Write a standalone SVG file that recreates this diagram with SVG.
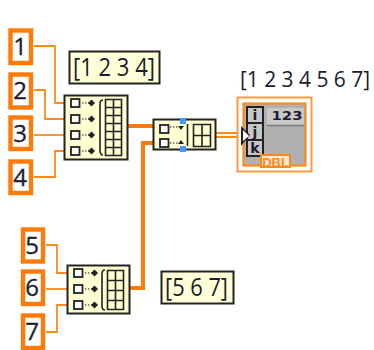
<svg xmlns="http://www.w3.org/2000/svg" width="374" height="350" viewBox="0 0 374 350">
<style>
text{font-family:"Open Sans","DejaVu Sans",sans-serif;fill:#1c1c30}
.c{fill:#fff;stroke:#ff7a08;stroke-width:4.4}
.n{font-size:24px;text-anchor:middle;stroke:#1c1c30;stroke-width:.3}
.w{fill:none;stroke:#ff8a1c;stroke-width:1.8}
.t{fill:none;stroke:#ff7a08;stroke-width:4}
.b{fill:#ffffd2;stroke:#222;stroke-width:2}
.l{fill:#ffffd8;stroke:#222;stroke-width:2}
.lt{font-size:25px}
.s{fill:#fff;stroke:#222;stroke-width:1.8}
.d{fill:none;stroke:#222;stroke-width:1.2;stroke-dasharray:1.5 1.5}
.g{fill:none;stroke:#222;stroke-width:1.6}
.h{fill:#3d9bff}
.k{fill:#222}
.f{font-weight:700;text-anchor:middle;font-family:"DejaVu Sans",sans-serif}
.cell{fill:#c6c6c6;stroke:#222;stroke-width:2}
</style>
<defs>
<g id="row"><rect class="s" x="0" y="-4" width="8.500" height="8"/><path class="d" d="M11 0H20"/><path class="k" d="M20.500 -3.500L24 0L20.500 3.500L17 0Z"/></g>
</defs>
<g id="connectors">
<path class="w" d="M34 46H55V103H64"/>
<path class="w" d="M34 90H45V119H64"/>
<path class="w" d="M34 135H64"/>
<path class="w" d="M34 177H55V151H64"/>
<path class="w" d="M46 245H57V273H67"/>
<path class="w" d="M46 289H67"/>
<path class="w" d="M46 332H57V305H67"/>
<path class="t" d="M128 126H153"/>
<path class="t" d="M130 288H143V143H153"/>
<path class="w" d="M216 133H241M216 137H241"/>
</g>
<g id="c1"><rect class="c" x="10.500" y="30.500" width="20.500" height="32.500"/><text class="n" x="20" y="55">1</text></g>
<g id="c2"><rect class="c" x="10.500" y="74.500" width="20.500" height="33"/><text class="n" x="20" y="99">2</text></g>
<g id="c3"><rect class="c" x="10.500" y="117.500" width="20.500" height="31.500"/><text class="n" x="20" y="142">3</text></g>
<g id="c4"><rect class="c" x="10.500" y="161.500" width="20.500" height="31.500"/><text class="n" x="20" y="186">4</text></g>
<g id="c5"><rect class="c" x="23" y="229.500" width="20" height="32"/><text class="n" x="32" y="254">5</text></g>
<g id="c6"><rect class="c" x="23" y="271.500" width="20" height="32.500"/><text class="n" x="32" y="296">6</text></g>
<g id="c7"><rect class="c" x="23" y="315.500" width="20" height="32.500"/><text class="n" x="32" y="340">7</text></g>
<g id="label1"><rect class="l" x="69.500" y="51.500" width="90" height="32"/><text class="lt" x="73" y="76" textLength="82" lengthAdjust="spacingAndGlyphs">[1 2 3 4]</text></g>
<g id="label2"><rect class="l" x="161.500" y="271.500" width="72" height="32"/><text class="lt" x="165" y="296" textLength="63" lengthAdjust="spacingAndGlyphs">[5 6 7]</text></g>
<text id="label3" x="240" y="87" textLength="130" lengthAdjust="spacingAndGlyphs" style="font-size:21px">[1 2 3 4 5 6 7]</text>
<g id="build1">
<rect class="b" x="64.500" y="95.500" width="63" height="64"/>
<use href="#row" x="71" y="103"/><use href="#row" x="71" y="119"/><use href="#row" x="71" y="135"/><use href="#row" x="71" y="151"/>
<path class="g" d="M103 100Q100 100 100 104V150Q100 155 103 155"/>
<path class="g" d="M105.500 99.500H121.500V155.500H105.500ZM105.500 107.500H121.500M105.500 115.500H121.500M105.500 123.500H121.500M105.500 131.500H121.500M105.500 139.500H121.500M105.500 147.500H121.500M113.500 99.500V155.500"/>
</g>
<g id="build2">
<rect class="b" x="67.500" y="265.500" width="62" height="48"/>
<use href="#row" x="74" y="273"/><use href="#row" x="74" y="289"/><use href="#row" x="74" y="305"/>
<path class="g" d="M105 270Q102 270 102 274V306Q102 310 105 310"/>
<path class="g" d="M107.500 270.500H123.500V309.500H107.500ZM107.500 280.500H123.500M107.500 290.500H123.500M107.500 300.500H123.500M115.500 270.500V309.500"/>
</g>
<g id="build3">
<rect class="b" x="153.500" y="119.500" width="62" height="30"/>
<rect class="s" x="160" y="125" width="8.500" height="8"/><path class="d" d="M170 127H178"/><path class="k" d="M178 126H184L181 130Z"/>
<rect class="s" x="160" y="139" width="8.500" height="8"/><path class="d" d="M170 143H178"/><path class="k" d="M178 144H184L181 140Z"/>
<path class="g" d="M187.500 124V146"/>
<path class="g" d="M193.500 124.500H210.500V146.500H193.500ZM193.500 135.500H210.500M202 124.500V146.500"/>
<rect class="h" x="180" y="118" width="6" height="6"/><rect class="h" x="180" y="146" width="6" height="6"/>
</g>
<g id="indicator">
<rect x="237.500" y="97.500" width="74" height="74" fill="#fff" stroke="#ff9a3c" stroke-width="2"/>
<rect x="243.500" y="103.500" width="62" height="62" fill="#b0b0b0" stroke="#ff8a1c" stroke-width="2.200"/>
<rect class="cell" x="247" y="107" width="16" height="16"/>
<rect class="cell" x="247" y="123" width="16" height="17"/>
<rect class="cell" x="247" y="140" width="16" height="16"/>
<text class="f" x="255" y="120" style="font-size:14px">i</text>
<text class="f" x="255" y="137" style="font-size:14px">j</text>
<text class="f" x="255" y="153" style="font-size:14px">k</text>
<rect x="267" y="108" width="37" height="17" fill="#c8c8c8"/>
<path d="M267 125.500H304" stroke="#7a7a7a" stroke-width="1.500"/>
<text class="f" x="287" y="120" textLength="31" lengthAdjust="spacingAndGlyphs" style="font-size:11.500px">123</text>
<rect x="261" y="155" width="29" height="12" fill="#ffe9d0" stroke="#ff8a1c" stroke-width="2"/>
<text x="275.500" y="167" text-anchor="middle" style="font-size:13px;font-weight:700;fill:#ff8a1c;font-family:'Liberation Sans',sans-serif">DBL</text>
<path d="M241 126L250 135L241 146Z" fill="#222"/>
<path d="M243 130L249 136L243 141Z" fill="#fff"/>
</g>
</svg>
